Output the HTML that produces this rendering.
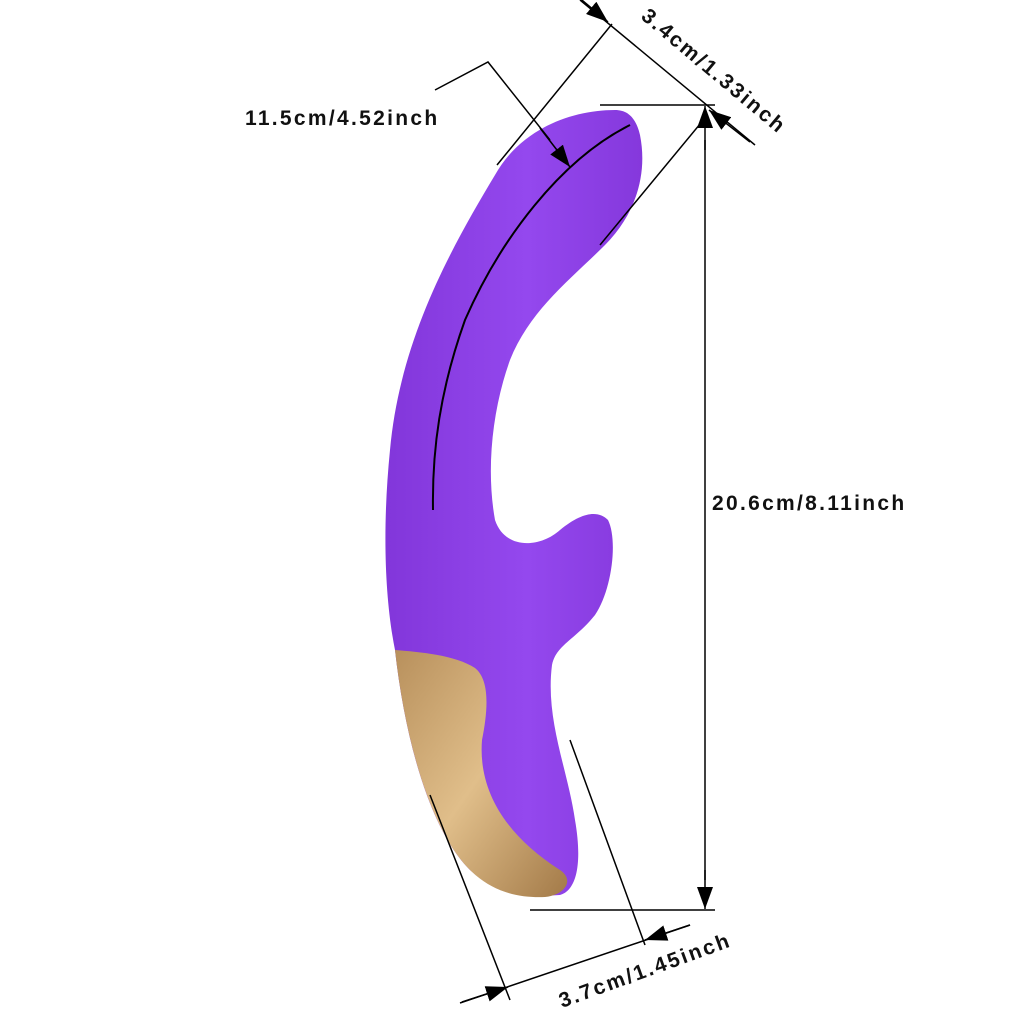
<!DOCTYPE html>
<html><head><meta charset="utf-8"><style>
html,body{margin:0;padding:0;background:#fff;}
svg{display:block}
text{font-family:"Liberation Sans",sans-serif;font-weight:bold;fill:#111;letter-spacing:2.3px;}
</style></head><body>
<svg width="1024" height="1024" viewBox="0 0 1024 1024" xmlns="http://www.w3.org/2000/svg">
<defs>
<linearGradient id="pg" x1="0" y1="0" x2="1" y2="0">
<stop offset="0" stop-color="#8236da"/><stop offset="0.55" stop-color="#9448ee"/><stop offset="1" stop-color="#8538dc"/>
</linearGradient>
<linearGradient id="gg" x1="0" y1="0" x2="1" y2="1">
<stop offset="0" stop-color="#b8905c"/><stop offset="0.5" stop-color="#e0be8a"/><stop offset="1" stop-color="#a37a48"/>
</linearGradient>
<marker id="ar" markerWidth="22" markerHeight="16" refX="22" refY="8" orient="auto" markerUnits="userSpaceOnUse" viewBox="0 0 22 16">
<path d="M0,0 L22,8 L0,16 z" fill="#000"/></marker>
</defs>
<path d="M615,110 C570,110 520,130 495,175 C450,250 400,340 390,450 C382,530 385,600 395,650 C405,740 430,830 470,870 C495,893 530,897 560,895 C578,890 582,860 575,820 C568,770 545,720 552,665 C556,645 575,640 595,615 C612,590 618,540 608,520 C598,510 582,512 560,530 C540,548 505,550 495,520 C486,470 492,410 510,360 C530,310 570,280 605,245 C635,215 648,175 640,135 C636,118 628,110 615,110 Z" fill="url(#pg)"/>
<path d="M395,650 C420,652 455,655 475,668 C490,680 488,710 482,740 C478,790 505,835 560,870 C575,880 565,895 545,897 C520,898 492,893 468,868 C430,828 405,740 395,650 Z" fill="url(#gg)"/>
<path d="M630,125 C560,160 500,240 465,320 C440,390 432,450 433,510" fill="none" stroke="#000" stroke-width="2"/>
<g stroke="#000" stroke-width="1.5" fill="none">
<line x1="600" y1="105" x2="715" y2="105"/>
<line x1="530" y1="910" x2="715" y2="910"/>
<line x1="705" y1="140" x2="705" y2="880"/>
<line x1="705" y1="150" x2="705" y2="106" marker-end="url(#ar)"/>
<line x1="705" y1="870" x2="705" y2="909" marker-end="url(#ar)"/>
<line x1="497" y1="165" x2="612" y2="24"/>
<line x1="600" y1="245" x2="705" y2="118"/>
<line x1="580" y1="0" x2="755" y2="145"/>
<line x1="570" y1="-10" x2="608" y2="22" marker-end="url(#ar)"/>
<line x1="750" y1="142" x2="709" y2="110" marker-end="url(#ar)"/>
<polyline points="435,90 488,62 550,140"/>
<line x1="540" y1="128" x2="570" y2="167" marker-end="url(#ar)"/>
<line x1="430" y1="795" x2="510" y2="1000"/>
<line x1="570" y1="740" x2="645" y2="945"/>
<line x1="460" y1="1003" x2="690" y2="925"/>
<line x1="462" y1="1002" x2="508" y2="987" marker-end="url(#ar)"/>
<line x1="690" y1="925" x2="645" y2="940" marker-end="url(#ar)"/>
</g>
<text x="245" y="125" font-size="21">11.5cm/4.52inch</text>
<text x="712" y="510" font-size="21">20.6cm/8.11inch</text>
<text x="0" y="0" font-size="21" transform="translate(640,18) rotate(40)">3.4cm/1.33inch</text>
<text x="0" y="0" font-size="21" transform="translate(562,1008) rotate(-20)">3.7cm/1.45inch</text>
</svg>
</body></html>
